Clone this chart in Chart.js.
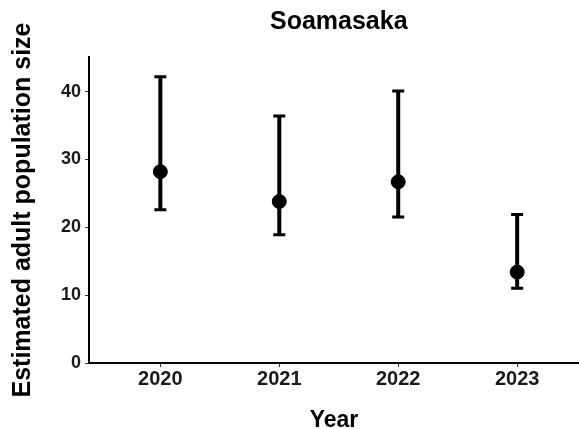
<!DOCTYPE html>
<html>
<head>
<meta charset="utf-8">
<script src="https://cdn.jsdelivr.net/npm/chart.js@4.4.1/dist/chart.umd.min.js"></script>
<style>
  html, body { margin: 0; padding: 0; background: #ffffff; }
  #wrap { width: 579px; height: 429px; position: relative; }
</style>
</head>
<body>
<div id="wrap"><canvas id="chart"></canvas></div>
<script>
// Population estimates per survey year, with interval bounds
const years = ['2020', '2021', '2022', '2023'];
const estimate = [28.2, 23.8, 26.7, 13.4];
const lowerBound = [22.6, 18.9, 21.5, 11.0];
const upperBound = [42.2, 36.4, 40.1, 21.9];
const yTicks = [0, 10, 20, 30, 40];

const chartTitle = 'Soamasaka';
const FONT = '"Liberation Sans", Arial, sans-serif';

// Vertical interval bars with end caps, drawn beneath the points
const errorBars = {
  id: 'errorBars',
  beforeDatasetsDraw(chart) {
    const { ctx, scales: { x, y } } = chart;
    ctx.save();
    ctx.strokeStyle = '#000000';
    ctx.lineCap = 'butt';
    years.forEach((_, i) => {
      const px = x.getPixelForValue(i);
      const top = y.getPixelForValue(upperBound[i]);
      const bot = y.getPixelForValue(lowerBound[i]);
      ctx.lineWidth = 4;
      ctx.beginPath();
      ctx.moveTo(px, top);
      ctx.lineTo(px, bot);
      ctx.stroke();
      ctx.lineWidth = 3;
      ctx.beginPath();
      ctx.moveTo(px - 6, top);
      ctx.lineTo(px + 6, top);
      ctx.moveTo(px - 6, bot);
      ctx.lineTo(px + 6, bot);
      ctx.stroke();
    });
    ctx.restore();
  }
};

// Title centred over the plotting panel
const panelTitle = {
  id: 'panelTitle',
  afterDraw(chart) {
    const { ctx, scales: { x } } = chart;
    ctx.save();
    ctx.fillStyle = '#000000';
    ctx.font = 'bold 25px ' + FONT;
    ctx.textAlign = 'center';
    ctx.textBaseline = 'middle';
    ctx.fillText(chartTitle, x.getPixelForValue(1.5), 22);
    ctx.restore();
  }
};

new Chart(document.getElementById('chart'), {
  type: 'scatter',
  data: {
    datasets: [{
      data: estimate.map((v, i) => ({ x: i, y: v })),
      backgroundColor: '#000000',
      borderColor: '#000000',
      pointRadius: 7,
      pointHoverRadius: 7
    }]
  },
  options: {
    responsive: true,
    maintainAspectRatio: false,
    animation: false,
    layout: { autoPadding: false, padding: { top: 57, right: 0, bottom: 0, left: 0 } },
    plugins: {
      legend: { display: false },
      tooltip: { enabled: false },
      title: { display: false }
    },
    scales: {
      x: {
        type: 'linear',
        min: -0.6,
        max: 3.52,
        afterBuildTicks(scale) { scale.ticks = years.map((_, i) => ({ value: i })); },
        afterFit(scale) { scale.height = 66; },
        ticks: {
          callback: (v) => years[v],
          color: '#1a1a1a',
          font: { family: FONT, size: 20, weight: 'bold' },
          padding: 0,
          maxRotation: 0
        },
        grid: { display: true, drawOnChartArea: false, drawTicks: true, tickLength: 4, color: '#333333' },
        border: { display: true, color: '#000000', width: 2 },
        title: {
          display: true,
          text: 'Year',
          color: '#000000',
          font: { family: FONT, size: 23, weight: 'bold', lineHeight: 1 },
          padding: { top: 0, bottom: -3 }
        }
      },
      y: {
        min: 0,
        max: 45.1,
        afterBuildTicks(scale) { scale.ticks = yTicks.map(v => ({ value: v })); },
        afterFit(scale) { scale.width = 89; },
        ticks: {
          color: '#1a1a1a',
          font: { family: FONT, size: 18, weight: 'bold' },
          padding: 4
        },
        grid: { display: true, drawOnChartArea: false, drawTicks: true, tickLength: 4, color: '#333333' },
        border: { display: true, color: '#000000', width: 2 },
        title: {
          display: true,
          text: 'Estimated adult population size',
          color: '#000000',
          font: { family: FONT, size: 25, weight: 'bold', lineHeight: 1 },
          padding: { top: 11, bottom: 0 }
        }
      }
    }
  },
  plugins: [errorBars, panelTitle]
});
</script>
</body>
</html>
